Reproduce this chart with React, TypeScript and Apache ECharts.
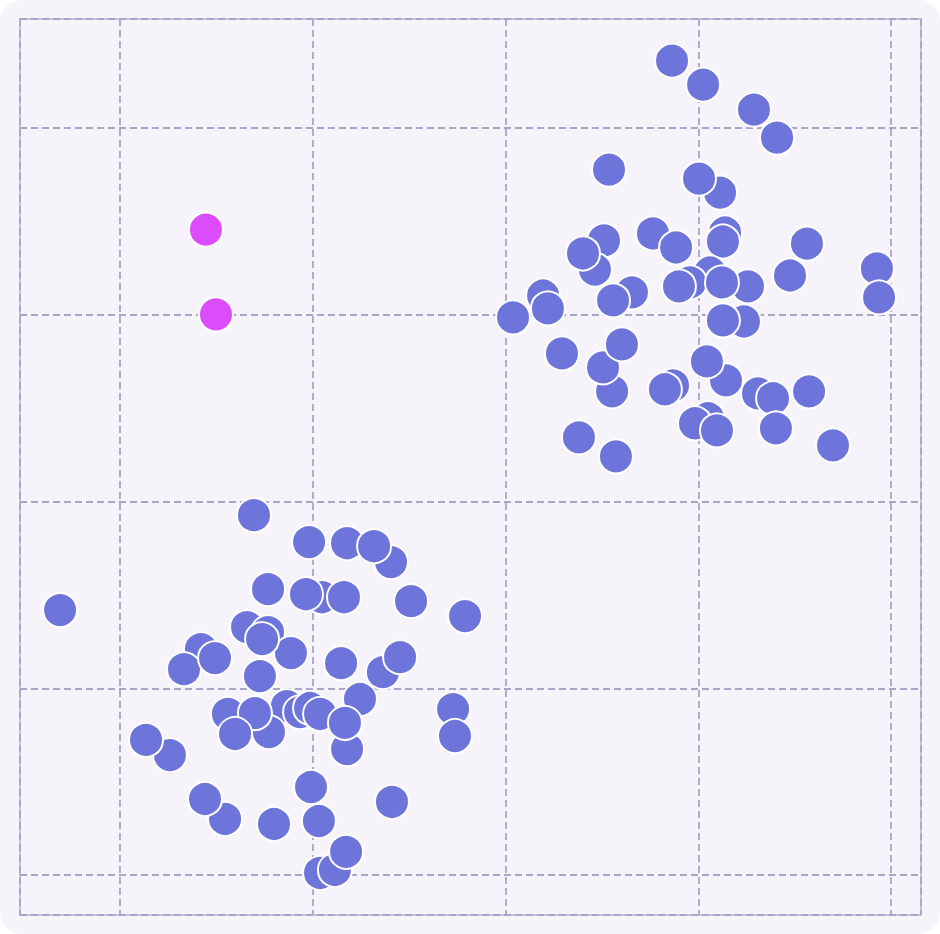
import React, { useEffect, useRef } from "react";
import * as echarts from "echarts";

// Main cluster points [x, y] (drawing order: later on top)
const clusterX: number[] = [
  3.864, 4.025, 4.289, 4.409, 3.537, 4.113, 4.004, 3.765, 3.885, 4.139, 4.128,
  4.476, 4.564, 4.927, 4.938, 3.511, 3.464, 3.402, 4.061, 3.957, 4.258, 4.123,
  3.9, 3.656, 3.558, 3.195, 3.22, 3.039, 4.237, 4.128, 3.553, 3.506, 3.604,
  3.293, 4.144, 4.045, 3.869, 3.827, 4.31, 4.388, 4.575, 4.403, 4.699, 4.051,
  3.983, 4.097, 3.381, 3.573,
  1.695, 1.981, 2.178, 2.406, 2.318, 1.768, 2.048, 1.965, 2.162, 2.51, 2.79,
  0.689, 1.659, 1.768, 1.887, 1.737, 1.42, 1.332, 1.493, 1.726, 2.147, 2.364,
  2.453, 1.866, 1.934, 1.986, 2.038, 1.56, 1.773, 1.7, 1.597, 2.245, 2.178,
  2.167, 2.728, 2.738, 1.259, 1.135, 1.545, 1.441, 1.799, 1.991, 2.032, 2.411,
  2.038, 2.115, 2.173,
];
const clusterY: number[] = [
  5.36, 5.232, 5.098, 4.948, 4.777, 4.654, 4.729, 4.435, 4.36, 4.44, 4.392,
  4.21, 4.381, 4.248, 4.093, 4.398, 4.242, 4.328, 4.226, 4.173, 4.152, 4.173,
  4.152, 4.12, 4.077, 4.103, 4.034, 3.986, 3.964, 3.97, 3.59, 3.718, 3.841,
  3.793, 3.649, 3.75, 3.622, 3.601, 3.579, 3.553, 3.59, 3.392, 3.301, 3.446,
  3.419, 3.381, 3.344, 3.242,
  2.927, 2.783, 2.777, 2.676, 2.761, 2.531, 2.488, 2.504, 2.488, 2.467, 2.387,
  2.419, 2.328, 2.301, 2.189, 2.264, 2.21, 2.103, 2.162, 2.066, 2.135, 2.087,
  2.167, 1.905, 1.873, 1.895, 1.863, 1.863, 1.766, 1.868, 1.756, 1.943, 1.675,
  1.815, 1.889, 1.745, 1.643, 1.724, 1.301, 1.408, 1.274, 1.472, 1.29, 1.392,
  1.012, 1.028, 1.125,
];

// Highlighted points
const highlightX: number[] = [1.446, 1.498];
const highlightY: number[] = [4.456, 4.002];

const X_MIN = 0.4812;
const X_MAX = 5.1556;
const Y_MIN = 0.787;
const Y_MAX = 5.583;

export default function App() {
  const ref = useRef<HTMLDivElement>(null);

  useEffect(() => {
    if (!ref.current) return;
    const chart = echarts.init(ref.current, undefined, { renderer: "svg" });

    const cluster = clusterX.map((x, i) => [x, clusterY[i]]);
    const highlight = highlightX.map((x, i) => [x, highlightY[i]]);

    const splitLine = {
      show: true,
      lineStyle: { color: "#a9a5c9", width: 1.8, type: [7, 4] as number[] },
    };

    chart.setOption({
      animation: false,
      backgroundColor: "transparent",
      grid: {
        left: 20,
        right: 19,
        top: 19,
        bottom: 19,
        show: true,
        borderColor: "#c6c2dd",
        borderWidth: 2,
        backgroundColor: "transparent",
      },
      xAxis: {
        type: "value",
        min: X_MIN,
        max: X_MAX,
        splitNumber: 5,
        axisLabel: { show: false },
        axisTick: { show: false },
        axisLine: { show: false },
        splitLine,
      },
      yAxis: {
        type: "value",
        min: Y_MIN,
        max: Y_MAX,
        splitNumber: 5,
        axisLabel: { show: false },
        axisTick: { show: false },
        axisLine: { show: false },
        splitLine,
      },
      series: [
        {
          type: "scatter",
          data: cluster,
          symbolSize: 34,
          itemStyle: {
            color: "#6e75da",
            borderColor: "#ffffff",
            borderWidth: 2,
            opacity: 1,
          },
        },
        {
          type: "scatter",
          data: highlight,
          symbolSize: 34,
          itemStyle: {
            color: "#dc4cfa",
            borderColor: "#ffffff",
            borderWidth: 2,
            opacity: 1,
          },
        },
      ],
    });

    return () => chart.dispose();
  }, []);

  return (
    <div
      style={{
        position: "absolute",
        left: 0,
        top: 0,
        width: 940,
        height: 934,
        background: "#f6f4fa",
        borderRadius: 22,
        overflow: "hidden",
      }}
    >
      <div ref={ref} style={{ width: 940, height: 934 }} />
    </div>
  );
}
